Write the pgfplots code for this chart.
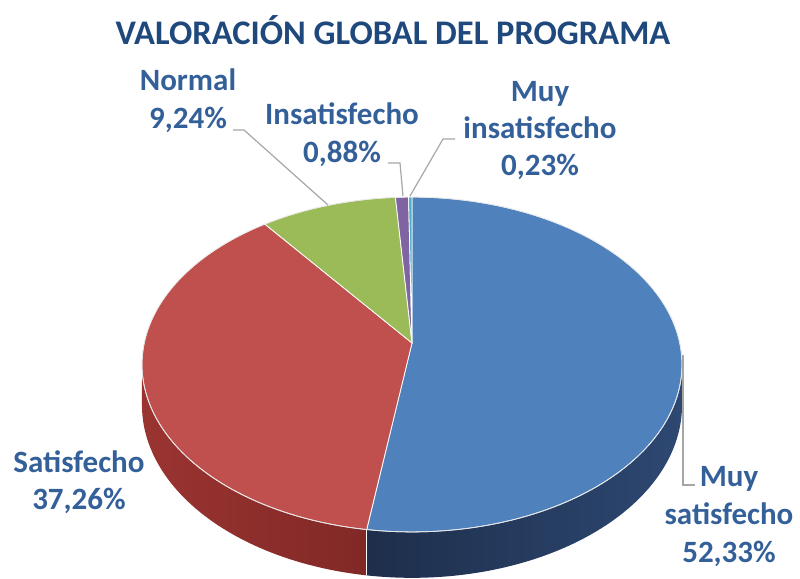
\documentclass[border=0pt]{standalone}
\usepackage{fontspec}
\setmainfont{Carlito}
\usepackage{pgfplots}
\usepackage{pgfplotstable}
\pgfplotsset{compat=1.18}
\definecolor{cBlue}{HTML}{4F81BD}
\definecolor{cRed}{HTML}{C0504D}
\definecolor{cGreen}{HTML}{9BBB59}
\definecolor{cPurple}{HTML}{8064A2}
\definecolor{cAqua}{HTML}{4BACC6}
\definecolor{sBlueA}{HTML}{1E2E4B}
\definecolor{sBlueB}{HTML}{2D4872}
\definecolor{sRedA}{HTML}{9A3431}
\definecolor{sRedB}{HTML}{7C2624}
\definecolor{titleBlue}{HTML}{1F497D}
\definecolor{labBlue}{HTML}{34609A}
\definecolor{leader}{HTML}{A6A6A6}

\pgfplotstableread{
idx value
0 52.33
1 37.26
2 9.24
3 0.88
4 0.23
}\datatable
% projected rim of the pie (pixel units, y downwards, perspective)
\def\X#1{(412+267.8*sin(#1)/(1+0.1283*cos(#1)))}
\def\Y#1{(343-164.7*cos(#1)/(1+0.1283*cos(#1)))}
\def\D#1{(40/(1+0.1283*cos(#1)))}
\def\px{412}\def\py{343}
\newcommand{\pieslice}[3]{%
  \addplot[fill=#3, draw=white, line width=0.8pt, domain=#1:#2, samples=90, variable=\t]
    ({\X{\t}},{\Y{\t}}) -- (axis cs:\px,\py) -- cycle;}

\begin{document}%
\begin{tikzpicture}%
\pgfplotstablegetelem{0}{value}\of\datatable \let\vA\pgfplotsretval
\pgfplotstablegetelem{1}{value}\of\datatable \let\vB\pgfplotsretval
\pgfplotstablegetelem{2}{value}\of\datatable \let\vC\pgfplotsretval
\pgfplotstablegetelem{3}{value}\of\datatable \let\vD\pgfplotsretval
\pgfplotstablegetelem{4}{value}\of\datatable \let\vE\pgfplotsretval
\pgfmathsetmacro{\tot}{\vA+\vB+\vC+\vD+\vE}
\pgfmathsetmacro{\aA}{\vA/\tot*360}
\pgfmathsetmacro{\aB}{\aA+\vB/\tot*360}
\pgfmathsetmacro{\aC}{\aB+\vC/\tot*360}
\pgfmathsetmacro{\aD}{\aC+\vD/\tot*360}
\pgfmathsetmacro{\xA}{\X{\aA}}
\pgfmathsetmacro{\yA}{\Y{\aA}}
\pgfmathsetmacro{\yAb}{\Y{\aA}+\D{\aA}}
\pgfmathsetmacro{\xR}{\X{97.4}}
\pgfmathsetmacro{\yR}{\Y{97.4}}
\pgfmathsetmacro{\xL}{\X{262.6}}
\pgfmathsetmacro{\yL}{\Y{262.6}}
\begin{axis}[
  width=800bp, height=578bp, scale only axis,
  xmin=0, xmax=800, ymin=0, ymax=578, y dir=reverse,
  hide axis, clip=true]
% sides
\addplot[left color=sBlueA, right color=sBlueB, draw=none, domain=97.4:\aA, samples=90, variable=\t]
  ({\X{\t}},{\Y{\t}+\D{\t}}) -- (axis cs:\xA,\yA) -- (axis cs:\px,\py) -- (axis cs:\xR,\yR) -- cycle;
\addplot[left color=sRedA, right color=sRedB, draw=none, domain=\aA:262.6, samples=90, variable=\t]
  ({\X{\t}},{\Y{\t}+\D{\t}}) -- (axis cs:\xL,\yL) -- (axis cs:\px,\py) -- (axis cs:\xA,\yA) -- cycle;
\addplot[draw=white, line width=0.8pt] coordinates {(\xA,\yA) (\xA,\yAb)};
% top faces
\pieslice{0}{\aA}{cBlue}
\pieslice{\aA}{\aB}{cRed}
\pieslice{\aB}{\aC}{cGreen}
\pieslice{\aC}{\aD}{cPurple}
\pieslice{\aD}{360}{cAqua}
\addplot[draw=white!80!gray, line width=0.7pt, domain=0:360, samples=200, variable=\t]
  ({\X{\t}},{\Y{\t}});
% leader lines
\addplot[leader, line width=1.2pt] coordinates {(233,130) (244,130) (328,205)};
\addplot[leader, line width=1.2pt] coordinates {(388,163) (400,163) (403,196)};
\addplot[leader, line width=1.2pt] coordinates {(455,139) (443,139) (410,196)};
\addplot[leader, line width=1.2pt] coordinates {(683,355) (683,485) (695,485)};
% labels
\node[text=titleBlue, font=\fontsize{34.5bp}{40bp}\selectfont\bfseries] at (axis cs:393,30) {VALORACIÓN GLOBAL DEL PROGRAMA};
\node[text=labBlue, align=center, font=\fontsize{31bp}{38bp}\selectfont\bfseries] at (axis cs:188,101) {Normal\\9,24\%};
\node[text=labBlue, align=center, font=\fontsize{31bp}{38bp}\selectfont\bfseries] at (axis cs:342,135) {Insatisfecho\\0,88\%};
\node[text=labBlue, align=center, font=\fontsize{31bp}{37bp}\selectfont\bfseries] at (axis cs:540,131) {Muy\\insatisfecho\\0,23\%};
\node[text=labBlue, align=center, font=\fontsize{31bp}{37bp}\selectfont\bfseries] at (axis cs:79,482) {Satisfecho\\37,26\%};
\node[text=labBlue, align=center, font=\fontsize{31bp}{38bp}\selectfont\bfseries] at (axis cs:729,517) {Muy\\satisfecho\\52,33\%};
\coordinate (BBa) at (axis cs:0,0);
\coordinate (BBb) at (axis cs:800,578);
\end{axis}
\pgfresetboundingbox
\useasboundingbox (BBa) rectangle (BBb);
\end{tikzpicture}%
\end{document}
